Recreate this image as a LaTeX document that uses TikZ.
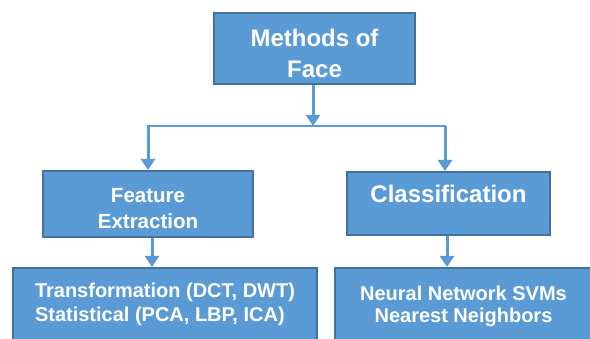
\documentclass[tikz,border=0pt]{standalone}
\usepackage{fontspec}
\setmainfont{Liberation Sans}
\usetikzlibrary{arrows.meta}
\definecolor{boxfill}{HTML}{5B9BD5}
\definecolor{boxdraw}{HTML}{41719C}
\definecolor{linkc}{HTML}{5B9BD5}
\begin{document}
\begin{tikzpicture}[x=1pt,y=-1pt,
  box/.style={draw=boxdraw, line width=2pt, fill=boxfill, text=white,
    font=\bfseries, inner sep=0pt, align=center},
  link/.style={draw=linkc, line width=3pt},
  thin link/.style={draw=linkc, line width=1.6pt},
  tip/.style={-{Triangle[width=14pt,length=11pt]}}]
\useasboundingbox (0,0) rectangle (590,339);
% boxes
\node[box, minimum width=201pt, minimum height=71pt, font=\bfseries\fontsize{24}{31}\selectfont]
  (top) at (314.5,48.5) {\rule{0pt}{27.5pt}Methods of\\Face};
\node[box, minimum width=210pt, minimum height=66pt, font=\bfseries\fontsize{20.5}{26}\selectfont]
  (feat) at (148,204) {\rule{0pt}{23pt}Feature\\Extraction};
\node[box, minimum width=203pt, minimum height=63pt, font=\bfseries\fontsize{24}{29}\selectfont,
  text height=17.5pt, text depth=18.5pt]
  (cls) at (448.5,203.5) {Classification};
\node[box, minimum width=304pt, minimum height=73pt, align=left, font=\bfseries\fontsize{20}{24}\selectfont]
  (tl) at (165,304.5) {Transformation (DCT, DWT)\\Statistical (PCA, LBP, ICA)};
\node[box, minimum width=257pt, minimum height=73pt, font=\bfseries\fontsize{20}{22}\selectfont]
  (tr) at (463.5,304.5) {\rule{0pt}{18.6pt}Neural Network SVMs\\Nearest Neighbors};
% connectors
\coordinate (hm) at (313,126);
\coordinate (hl) at (147,126);
\coordinate (hr) at (446,126);
\draw[link, tip] (top.south -| hm) -- (hm);
\draw[thin link] (hl) -- (hr);
\draw[link, tip] ([xshift=1pt]hl) -- ([xshift=1pt]hl |- feat.north);
\draw[link, tip] ([xshift=-1pt]hr) -- ([xshift=-1pt]hr |- cls.north);
\coordinate (fa) at (152,0);
\coordinate (ca) at (447,0);
\draw[link, tip] (feat.south -| fa) -- (tl.north -| fa);
\draw[link, tip] (cls.south -| ca) -- (tr.north -| ca);
\end{tikzpicture}
\end{document}
